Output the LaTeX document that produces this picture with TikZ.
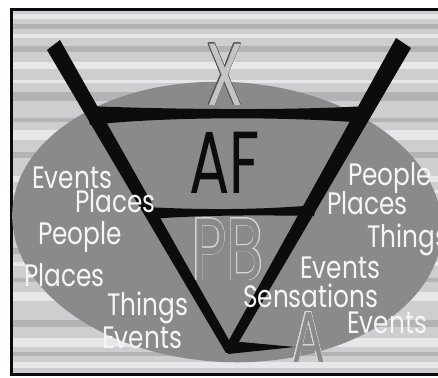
\documentclass[tikz,border=0pt]{standalone}
\usepackage{fontspec}
\setmainfont{Poppins}
\usepackage{contour}
\contourlength{0.7pt}
\definecolor{FunnelBack}{HTML}{CDCED0}
\definecolor{FunnelStreak}{HTML}{E6E7E9}
\definecolor{FunnelShade}{HTML}{B2B3B5}
\definecolor{FunnelOval}{HTML}{8A8A8A}
\definecolor{FunnelInk}{HTML}{0C0C0C}
\definecolor{FunnelWord}{HTML}{F5F5F5}
\definecolor{FunnelHollow}{HTML}{C4C4C4}
\definecolor{FunnelEdge}{HTML}{555555}
\definecolor{FunnelRim}{HTML}{D6D6D6}
\tikzset{
  word/.style={anchor=base west,inner sep=0pt,text=FunnelWord,
    font=\fontsize{31}{31}\selectfont,xscale=0.8},
  bigletter/.style={anchor=base west,inner sep=0pt,
    font=\fontsize{88}{88}\selectfont,xscale=0.68},
}

\begin{document}
\begin{tikzpicture}[x=1pt,y=-1pt]
  \useasboundingbox (0,0) rectangle (438,377);
  \fill[white] (0,0) rectangle (438,377);
  \fill[FunnelBack] (11,9) rectangle (440,375);
  % streaks of the scanned backdrop
  \foreach \y/\h in {14/5,34/4,62/7,80/3,130/10,176/6,190/3,226/6,262/4,292/9,338/9,362/6}
    \fill[FunnelStreak] (11,\y) rectangle (440,\y+\h);
  \foreach \y/\h in {24/5,46/6,92/9,118/4,152/6,204/5,248/6,278/4,320/7,352/4}
    \fill[FunnelShade] (11,\y) rectangle (440,\y+\h);
  \draw[FunnelInk,line width=3pt] (11.5,9.5) rectangle (440,374.5);

  \fill[FunnelOval,rotate around={-3:(227,222)}] (227,222) ellipse [x radius=215,y radius=140];

  \node[bigletter,text=FunnelHollow] (lX) at (206,105) {\contour{FunnelEdge}{X}};

  % the funnel
  \fill[FunnelInk] (47,50) -- (60,40) -- (229,340) -- (396,38) -- (411,48)
    -- (233,352) -- (226,353) -- cycle;
  \fill[FunnelInk] (230,341) -- (295,347) -- (228,354) -- cycle;
  \fill[FunnelInk] (86,106) .. controls (160,109) and (280,111) .. (368,106)
    -- (366,123) .. controls (280,116) and (160,117) .. (90,125) -- cycle;
  \fill[FunnelInk] (146,207) .. controls (200,210) and (260,210) .. (316,205)
    -- (314,216) .. controls (260,215) and (200,215) .. (150,219) -- cycle;

  \node[bigletter,text=FunnelInk] (lAF) at (189,193) {AF};
  \node[bigletter,text=FunnelOval] (lPB) at (192,280) {\contour{FunnelRim}{PB}};
  \node[bigletter,text=FunnelOval,font=\fontsize{72}{72}\selectfont] (lA) at (292,362) {\contour{FunnelRim}{A}};

  % left side
  \node[word] (wEventsL) at (32,188) {Events};
  \node[word] (wPlacesL) at (75,212) {Places};
  \node[word] (wPeopleL) at (38,244) {People};
  \node[word] (wPlacesLL) at (24,286) {Places};
  \node[word] (wThingsL) at (107,315) {Things};
  \node[word] (wEventsLL) at (102,348) {Events};
  % right side
  \node[word] (wPeopleR) at (348,185) {People};
  \node[word] (wPlacesR) at (327,214) {Places};
  \node[word] (wThingsR) at (367,247) {Things};
  \node[word] (wEventsR) at (300,278) {Events};
  \node[word] (wSensR) at (243,307) {Sensations};
  \node[word] (wEventsRR) at (347,333) {Events};
\end{tikzpicture}
\end{document}
